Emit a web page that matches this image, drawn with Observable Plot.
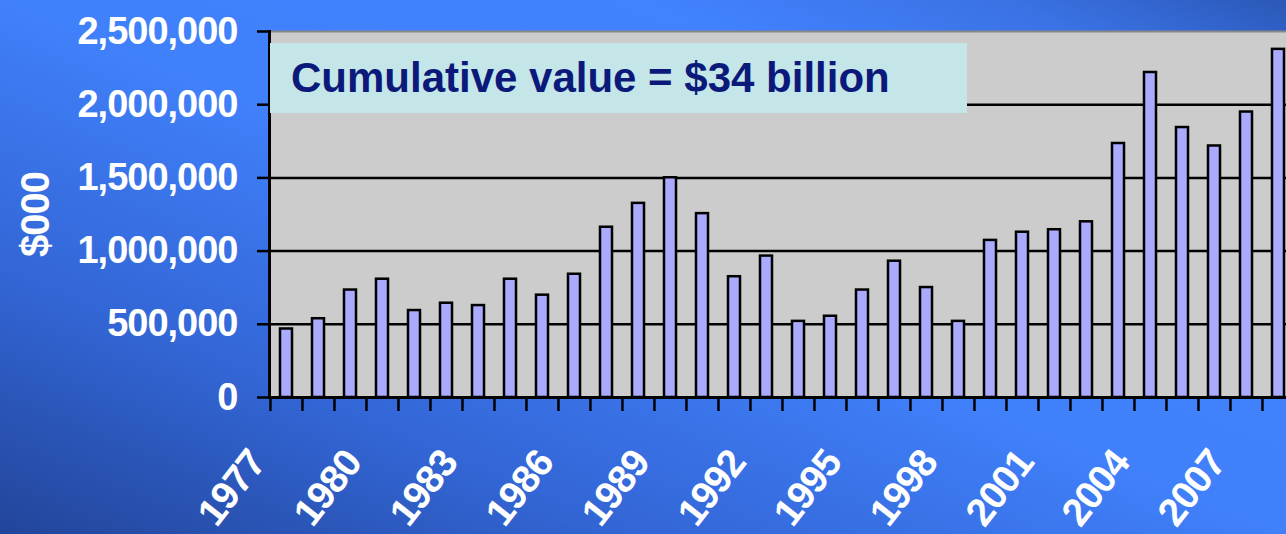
<!DOCTYPE html>
<html>
<head>
<meta charset="utf-8">
<script src="https://cdn.jsdelivr.net/npm/d3@7"></script>
<script src="https://cdn.jsdelivr.net/npm/@observablehq/plot@0.6"></script>
<style>
  html, body { margin: 0; padding: 0; }
  body { width: 1286px; height: 534px; overflow: hidden; }
  #wrap {
    position: relative; width: 1286px; height: 534px; overflow: hidden;
    background: linear-gradient(to right top, #22459a 0%, #3366d6 25%, #4080fa 50%, #4282ff 75%, #3a72e4 89%, #2b58b8 100%);
    font-family: "Liberation Sans", Arial, sans-serif;
  }
  #wrap svg { position: absolute; left: 0; top: 0; }
  #note {
    position: absolute; left: 270px; top: 43px; width: 697px; height: 70px;
    background: #c4e6e8; color: #0b1a7a; font-weight: bold; font-size: 42px;
    line-height: 70px; padding-left: 21px; box-sizing: border-box; white-space: nowrap;
  }
</style>
</head>
<body>
<div id="wrap"></div>
<script>
// ---- data ----
const years = [1977, 1978, 1979, 1980, 1981, 1982, 1983, 1984, 1985, 1986,
               1987, 1988, 1989, 1990, 1991, 1992, 1993, 1994, 1995, 1996,
               1997, 1998, 1999, 2000, 2001, 2002, 2003, 2004, 2005, 2006,
               2007, 2008];
const values = [468000, 538000, 734000, 808000, 594000, 644000, 628000, 808000, 699000, 842000,
                1163000, 1326000, 1501000, 1256000, 825000, 966000, 520000, 555000, 734000, 931000,
                751000, 520000, 1073000, 1129000, 1146000, 1200000, 1735000, 2220000, 1844000, 1718000,
                1950000, 2378000];
const yTicks = [0, 500000, 1000000, 1500000, 2000000, 2500000];
const xTickLabels = ["1977", "1980", "1983", "1986", "1989", "1992", "1995", "1998", "2001", "2004", "2007"];
const yLabel = "$000";
const noteText = "Cumulative value = $34 billion";

const data = years.map((y, i) => ({year: y, value: values[i]}));

const W = 1286, H = 534;
const xRange = [269, 1295];
const step = (xRange[1] - xRange[0]) / years.length;

const chart = Plot.plot({
  width: W, height: H,
  marginLeft: 269, marginRight: 0, marginTop: 31, marginBottom: 137,
  style: {background: "transparent", fontFamily: "'Liberation Sans', Arial, sans-serif", letterSpacing: "-1px"},
  x: {type: "band", domain: years, range: xRange, paddingInner: 0.62, paddingOuter: 0.31, axis: null},
  y: {domain: [0, 2500000], axis: null},
  marks: [
    Plot.frame({fill: "#cccccc", stroke: null}),
    Plot.ruleY([yTicks[yTicks.length - 1]], {stroke: "#888888", strokeWidth: 2}),
    Plot.ruleY(yTicks.slice(1, -1), {stroke: "black", strokeWidth: 2.5}),
    Plot.barY(data, {x: "year", y: "value", fill: "#aaaaff", stroke: "black", strokeWidth: 2.5}),
    Plot.ruleY([0], {stroke: "black", strokeWidth: 3}),
    Plot.frame({anchor: "left", stroke: "black", strokeWidth: 3}),
    Plot.axisX(years, {fill: "none", stroke: "black", strokeWidth: 2.5, tickSize: 14, dx: -step / 2, label: null}),
    Plot.axisY(yTicks, {stroke: "black", strokeWidth: 2.5, fill: "white", tickSize: 12, tickPadding: 20,
                        fontSize: 38, fontWeight: "bold", tickFormat: d3.format(","), label: null}),
    Plot.text(xTickLabels, {x: d => +d, text: d => d, frameAnchor: "bottom", dx: -29, dy: 58, rotate: -52,
                            textAnchor: "end", lineAnchor: "middle", fill: "white", fontSize: 39, fontWeight: "bold"}),
    Plot.text([yLabel], {frameAnchor: "left", dx: -233, rotate: -90, textAnchor: "middle",
                         lineAnchor: "middle", fill: "white", fontSize: 40, fontWeight: "bold"})
  ]
});

const wrap = document.getElementById("wrap");
wrap.appendChild(chart);
const note = document.createElement("div");
note.id = "note";
note.textContent = noteText;
wrap.appendChild(note);
</script>
</body>
</html>
